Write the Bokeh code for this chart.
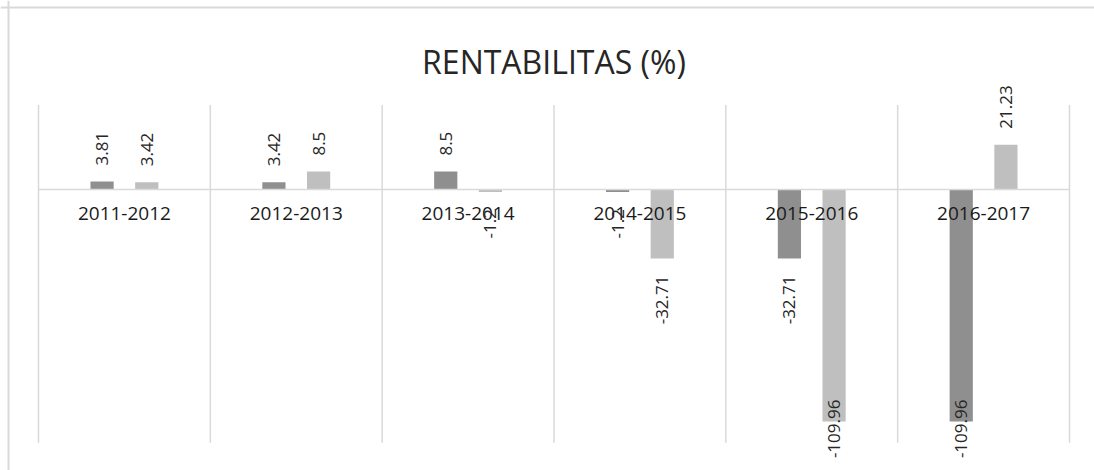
import numpy as np
from bokeh.plotting import figure
from bokeh.models import ColumnDataSource, Range1d, Span, Label
from bokeh.core.properties import value
from bokeh.embed import file_html
from bokeh.resources import INLINE

# ---- data ----
categories = ["2011-2012", "2012-2013", "2013-2014", "2014-2015", "2015-2016", "2016-2017"]
series_a = [3.81, 3.42, 8.5, -1.2, -32.71, -109.96]   # dark bars
series_b = [3.42, 8.5, -1.2, -32.71, -109.96, 21.23]  # light bars
chart_title = "RENTABILITAS (%)"

# ---- layout constants ----
W, H = 1094, 470
PX_X = 1031 / 6.0          # px per category
PX_Y = 2.11                # px per percent unit
LEFT_PX = 38               # canvas px of plot-area left
ZERO_PX = 189              # canvas px of zero line from top
Y_TOP, Y_BOTTOM = 40, -120
x_range = Range1d(-LEFT_PX / PX_X, (W - LEFT_PX) / PX_X)
y_range = Range1d(-(H - ZERO_PX) / PX_Y, ZERO_PX / PX_Y)

FONT = "Open Sans"
DARK, LIGHT, GRID, TXT = "#8f8f8f", "#bfbfbf", "#d9d9d9", "#262626"
BAR_W, OFF = 0.135, 0.13
LABEL_FLOOR = -91.5

p = figure(width=W, height=H, x_range=x_range, y_range=y_range,
           x_axis_type=None, y_axis_type=None, output_backend="svg",
           toolbar_location=None, min_border=0,
           min_border_left=0, min_border_right=0, min_border_top=0, min_border_bottom=0)
p.outline_line_color = None
p.xgrid.visible = False
p.ygrid.visible = False
p.background_fill_color = "white"
p.border_fill_color = "white"

n = len(categories)
centers = np.arange(n) + 0.5

# vertical category separators
bounds = np.arange(n + 1)
p.segment(x0=bounds, y0=[Y_BOTTOM] * (n + 1), x1=bounds, y1=[Y_TOP] * (n + 1),
          line_color=GRID, line_width=1.5)

# bars
a = np.array(series_a)
b = np.array(series_b)
p.vbar(x=centers - OFF, top=a, bottom=0, width=BAR_W, fill_color=DARK, line_color=None)
p.vbar(x=centers + OFF, top=b, bottom=0, width=BAR_W, fill_color=LIGHT, line_color=None)

# zero axis line
p.segment(x0=[0], y0=[0], x1=[n], y1=[0], line_color=GRID, line_width=1.5)

# category labels
p.text(x=centers, y=[0] * n, text=categories, text_align="center", text_baseline="top",
       y_offset=17, text_font=value(FONT), text_font_size="19px", text_color="#1a1a1a")

# value labels
xs = np.concatenate([centers - OFF, centers + OFF])
vals = np.concatenate([a, b])
txt = [f"{v:g}" for v in vals]
pos = vals >= 0
neg = ~pos
p.text(x=xs[pos], y=vals[pos], text=[t for t, m in zip(txt, pos) if m], angle=np.pi / 2,
       text_align="left", text_baseline="middle", y_offset=-16,
       text_font=value(FONT), text_font_size="17px", text_color=TXT)
p.text(x=xs[neg], y=np.maximum(vals[neg], LABEL_FLOOR), text=[t for t, m in zip(txt, neg) if m],
       angle=np.pi / 2, text_align="right", text_baseline="middle", y_offset=17,
       text_font=value(FONT), text_font_size="17px", text_color=TXT)

# title
p.add_layout(Label(x=n / 2, y=(ZERO_PX - 61) / PX_Y, text=chart_title, text_align="center",
                   text_baseline="middle", text_font=FONT, text_font_size="32px",
                   text_color="#262626"))

# chart-area border (left & top)
p.add_layout(Span(location=-(LEFT_PX - 8) / PX_X, dimension="height", line_color=GRID, line_width=2))
p.add_layout(Span(location=(ZERO_PX - 7) / PX_Y, dimension="width", line_color=GRID, line_width=2))

open("out.html", "w").write(file_html(p, INLINE))
